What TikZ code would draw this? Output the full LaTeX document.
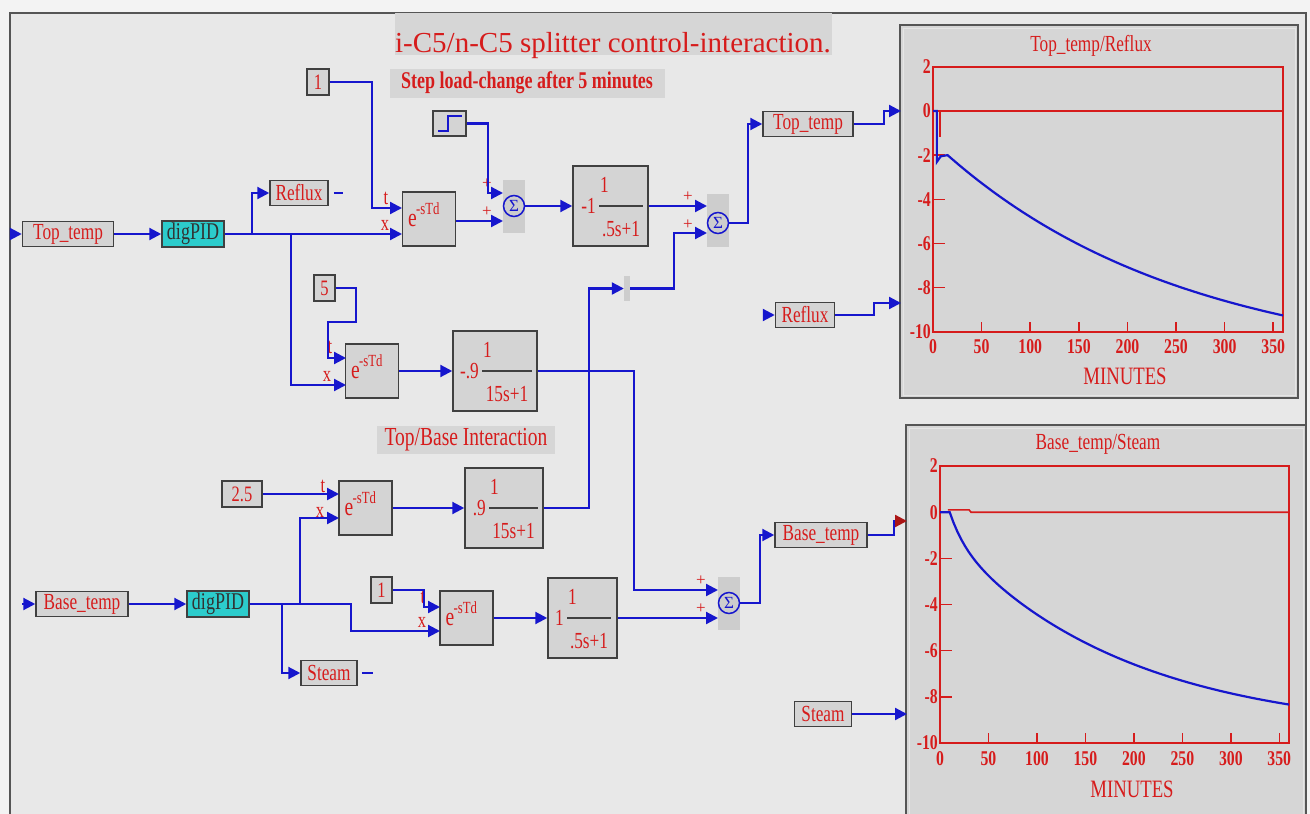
\documentclass[tikz,border=0pt]{standalone}
\usepackage{fontspec}
\setmainfont{Liberation Serif}
\newfontfamily\condfont[FakeStretch=0.75]{Liberation Serif}
\usetikzlibrary{arrows.meta,positioning}
\definecolor{outergray}{RGB}{243,243,243}
\definecolor{bggray}{RGB}{232,232,232}
\definecolor{framegray}{RGB}{85,85,85}
\definecolor{blockgray}{RGB}{212,212,212}
\definecolor{edgegray}{RGB}{64,64,64}
\definecolor{sumgray}{RGB}{205,205,205}
\definecolor{hlgray}{RGB}{214,214,214}
\definecolor{panelgray}{RGB}{214,214,214}
\definecolor{sigred}{RGB}{214,28,28}
\definecolor{wireblue}{RGB}{22,22,205}
\definecolor{pidcyan}{RGB}{44,204,204}
\definecolor{pidtext}{RGB}{50,50,50}

\newcommand{\fsz}[1]{\fontsize{#1}{#1}\selectfont}

\tikzset{
  wire/.style={draw=wireblue, line width=2.2pt},
  arr/.style={wire, -{Triangle[length=12pt,width=12pt]}},
  sig/.style={draw=edgegray, line width=1.5pt, fill=blockgray, text=sigred,
    font=\condfont\fsz{23}, inner sep=0pt, minimum height=25pt},
  pid/.style={sig, fill=pidcyan, text=pidtext, minimum width=62pt,
    minimum height=26pt, font=\condfont\fsz{24}},
  constbox/.style={sig, minimum width=22pt, minimum height=26pt, font=\condfont\fsz{22}},
  delaybox/.style={draw=edgegray, line width=1.5pt, fill=blockgray,
    minimum width=53pt, minimum height=54pt, inner sep=0pt},
  tfbox/.style={draw=edgegray, line width=1.5pt, fill=blockgray,
    minimum height=80pt, inner sep=0pt},
  tftext/.style={text=sigred, font=\condfont\fsz{23}, inner sep=0pt},
  portlbl/.style={text=sigred, font=\condfont\fsz{22}, inner sep=0pt},
  pluslbl/.style={text=sigred, font=\fsz{17}, inner sep=0pt},
  sumbg/.style={fill=sumgray, minimum width=22pt, minimum height=53pt, inner sep=0pt},
  sumc/.style={circle, draw=wireblue, line width=1.5pt, minimum size=21pt,
    inner sep=0pt, text=wireblue, font=\fsz{17}},
  hlbox/.style={fill=hlgray, text=sigred, inner sep=0pt},
  axlbl/.style={text=sigred, font=\condfont\bfseries\fsz{21}, inner sep=0pt},
  plotlbl/.style={text=sigred, font=\condfont\fsz{23}, inner sep=0pt},
  plotred/.style={draw=sigred, line width=1.6pt},
  plotblue/.style={draw=wireblue, line width=2.2pt},
}

% delay block: name, centre x, centre y
\newcommand{\delayblk}[3]{%
  \node[delaybox] (#1) at (#2,#3) {};
  \node[tftext, font=\condfont\fsz{26}, anchor=base west] (#1e) at (#2-21,#3+7) {e};
  \node[tftext, font=\condfont\fsz{17}, anchor=base west] (#1s) at (#2-13,#3-5) {-sTd};
}
% transfer block: name, centre x, centre y, width, gain, bar left, bar right, denominator
\newcommand{\tfblk}[8]{%
  \node[tfbox, minimum width=#4] (#1) at (#2,#3) {};
  \node[tftext, anchor=east] (#1g) at (#6-3,#3) {#5};
  \draw[edgegray, line width=1.5pt] (#6,#3) -- (#7,#3);
  \node[tftext, anchor=west] (#1n) at (#6+1,#3-21) {1};
  \node[tftext] (#1d) at ({(#6+#7)/2},#3+23) {#8};
}

\begin{document}
\begin{tikzpicture}[x=1pt,y=-1pt]
  % canvas and frame
  \useasboundingbox (0,0) rectangle (1310,814);
  \fill[outergray] (0,0) rectangle (1310,814);
  \fill[bggray] (10,13) rectangle (1306,814);
  \draw[framegray, line width=2pt] (10,830) -- (10,13) -- (1306,13) -- (1306,830);

  % headings
  \node[hlbox, minimum width=437pt, minimum height=42pt] (titlebg) at (613.5,34) {};
  \node[text=sigred, font=\fsz{29}, anchor=base, inner sep=0pt] (title) at (613,52)
    {i-C5/n-C5 splitter control-interaction.};
  \node[hlbox, minimum width=275pt, minimum height=29pt, font=\condfont\bfseries\fsz{24}]
    (steplbl) at (527,83) {Step load-change after 5 minutes};
  \node[hlbox, minimum width=178pt, minimum height=28pt, font=\condfont\fsz{26}]
    (interlbl) at (466,440) {Top/Base Interaction};

  % top loop blocks
  \coordinate (toptsrc) at (11,234);
  \node[sig, minimum width=91pt] (toptin) at (68,234) {Top\_temp};
  \node[pid] (pidtop) at (193,234) {digPID};
  \node[sig, minimum width=58pt] (refluxout) at (299,193) {Reflux};
  \node[constbox] (tdone) at (318,82) {1};
  \delayblk{dtop}{429}{219}
  \coordinate (dtopt) at (402,208);
  \coordinate (dtopx) at (402,234);
  \node[portlbl] (dtoptl) at (386,198) {t};
  \node[portlbl] (dtopxl) at (385,225) {x};
  \node[sig, minimum width=33pt, minimum height=25pt] (stepsrc) at (449.5,123.5) {};
  \draw[wireblue, line width=2pt] (438,131) -- (448,131) -- (448,116) -- (462,116);
  \node[sumbg] (sumAbg) at (514,206.5) {};
  \node[sumc] (sumA) at (514,206) {Σ};
  \coordinate (sA1) at (503,193);
  \coordinate (sA2) at (503,221);
  \node[pluslbl] (pA1) at (487,184) {+};
  \node[pluslbl] (pA2) at (487,212) {+};
  \tfblk{tfA}{610.5}{206}{75pt}{-1}{599}{643}{.5s+1}
  \node[sumbg] (sumBbg) at (717.5,220) {};
  \node[sumc] (sumB) at (718,223) {Σ};
  \coordinate (sB1) at (707,206);
  \coordinate (sB2) at (707,233);
  \node[pluslbl] (pB1) at (688,197) {+};
  \node[pluslbl] (pB2) at (688,225) {+};
  \node[sig, minimum width=90pt] (toptout) at (808,124) {Top\_temp};
  \coordinate (refluxsrc) at (763,315);
  \node[sig, minimum width=59pt] (refluxin) at (805,315) {Reflux};

  % top/base interaction blocks
  \node[constbox, minimum width=21pt] (tdfive) at (324.5,288) {5};
  \delayblk{dmid}{372}{371}
  \coordinate (dmidt) at (346,358);
  \coordinate (dmidx) at (346,385);
  \node[portlbl] (dmidtl) at (330,347) {t};
  \node[portlbl] (dmidxl) at (327,376) {x};
  \tfblk{tfB}{495}{371}{84pt}{-.9}{482}{532}{15s+1}
  \node[constbox, minimum width=40pt] (tdtwo) at (242,494) {2.5};
  \delayblk{dlow}{365.5}{508}
  \coordinate (dlowt) at (339,494);
  \coordinate (dlowx) at (339,518);
  \node[portlbl] (dlowtl) at (323,486) {t};
  \node[portlbl] (dlowxl) at (320,512) {x};
  \tfblk{tfC}{504}{508}{78pt}{.9}{489}{538}{15s+1}
  \node[fill=sumgray, minimum width=6pt, minimum height=25pt, inner sep=0pt] (junc) at (627,288.5) {};

  % base loop blocks
  \coordinate (basetsrc) at (22,604);
  \node[sig, minimum width=92pt] (basetin) at (82,604) {Base\_temp};
  \node[pid] (pidbase) at (218,604) {digPID};
  \node[sig, minimum width=56pt] (steamout) at (329,673) {Steam};
  \node[constbox, minimum width=21pt] (tdonelow) at (381.5,590) {1};
  \delayblk{dbot}{466.5}{618}
  \coordinate (dbott) at (440,607);
  \coordinate (dbotx) at (440,631);
  \node[portlbl] (dbottl) at (423,597) {t};
  \node[portlbl] (dbotxl) at (422,622) {x};
  \tfblk{tfD}{582.5}{618}{69pt}{1}{567}{611}{.5s+1}
  \node[sumbg] (sumCbg) at (729,603.5) {};
  \node[sumc] (sumC) at (729,603) {Σ};
  \coordinate (sC1) at (718,590);
  \coordinate (sC2) at (718,618);
  \node[pluslbl] (pC1) at (701,581) {+};
  \node[pluslbl] (pC2) at (701,609) {+};
  \node[sig, minimum width=92pt] (basetout) at (821,535) {Base\_temp};
  \coordinate (steamsrc) at (781,714);
  \node[sig, minimum width=57pt] (steamin) at (823,714) {Steam};

  % top loop wiring
  \draw[arr] (toptsrc) -- (toptin.west);
  \draw[arr] (toptin.east) -- (pidtop.west);
  \draw[arr] (pidtop.east) -- (dtopx);
  \coordinate (jR) at (252,234);
  \coordinate (jM) at (291,234);
  \draw[arr] (jR) |- (refluxout.west);
  \draw[wire] (refluxout.east) ++(5,0) -- ++(9,0);
  \draw[arr] (tdone.east) -- ++(42,0) |- (dtopt);
  \draw[arr] (stepsrc.east) -- ++(21,0) |- (sA1);
  \draw[arr] (dtop.east |- sA2) -- (sA2);
  \draw[arr] (sumA.east) -- (tfA.west);
  \draw[arr] (tfA.east) -- (sB1);
  \draw[arr] (sumB.east) -- ++(19,0) |- (toptout.west);
  \draw[arr] (refluxsrc) -- (refluxin.west);

  % interaction wiring
  \draw[arr] (jM) |- (dmidx);
  \draw[arr] (tdfive.east) -- ++(20,0) -- ++(0,34) -- ++(-28,0) |- (dmidt);
  \draw[arr] (dmid.east) -- (tfB.west);
  \draw[arr] (tfB.east) -- ++(96,0) |- (sC1);
  \draw[arr] (tdtwo.east) -- (dlowt);
  \draw[arr] (dlow.east) -- (tfC.west);
  \draw[arr] (tfC.east) -- ++(45,0) |- (junc.west);
  \draw[arr] (junc.east) -- ++(44,0) |- (sB2);

  % base loop wiring
  \draw[arr] (basetsrc) -- (basetin.west);
  \draw[arr] (basetin.east) -- (pidbase.west);
  \draw[arr] (pidbase.east) -- ++(101,0) |- (dbotx);
  \coordinate (jS) at (282,604);
  \coordinate (jL) at (300,604);
  \draw[arr] (jS) |- (steamout.west);
  \draw[wire] (steamout.east) ++(4,0) -- ++(11,0);
  \draw[arr] (jL) |- (dlowx);
  \draw[arr] (tdonelow.east) -- ++(31,0) |- (dbott);
  \draw[arr] (dbot.east) -- (tfD.west);
  \draw[arr] (tfD.east) -- (sC2);
  \draw[arr] (sumC.east) -- ++(20,0) |- (basetout.west);

  % plot panels
  \draw[framegray, line width=2pt, fill=panelgray] (900,25) rectangle (1298,398);
  \draw[white!80!gray, line width=1pt] (903,28) rectangle (1295,395);
  \draw[framegray, line width=2pt, fill=panelgray] (906,425) rectangle (1306,830);
  \draw[white!80!gray, line width=1pt] (909,428) rectangle (1303,830);
  \coordinate (plotAin1) at (901,111);
  \coordinate (plotAin2) at (901,303);
  \coordinate (plotBin1) at (907,521);
  \coordinate (plotBin2) at (907,714);
  \draw[arr] (toptout.east) -- ++(30,0) |- (plotAin1);
  \draw[arr] (refluxin.east) -- ++(39,0) |- (plotAin2);
  \draw[wire, -{Triangle[length=12pt,width=12pt,color=sigred!80!black]}]
    (basetout.east) -- ++(26,0) |- (plotBin1);
  \draw[arr] (steamin.east) -- (plotBin2);

  % Top_temp/Reflux plot
  \node[plotlbl] (plotAtitle) at (1091,46) {Top\_temp/Reflux};
  \node[plotlbl, font=\condfont\fsz{25}] (plotAx) at (1125,376) {MINUTES};
  \begin{scope}[shift={(933,111)}, x=0.9722pt, y=22.08pt]
    \draw[plotred] (0,-10) rectangle (360,2);
    \foreach \v in {-8,-6,-4,-2}
      \draw[plotred] (0,\v) -- (12,\v);
    \foreach \t in {50,100,...,350}
      \draw[plotred] (\t,-10) -- (\t,-9.55);
    \foreach \v in {2,0,-2,-4,-6,-8,-10}
      \node[axlbl, anchor=east] (yA\v) at (-2,\v) {\v};
    \foreach \t in {0,50,...,350}
      \node[axlbl, anchor=north] (xA\t) at (\t,-10.35) {\t};
    \draw[plotred] (0,0) -- (360,0);
    \draw[plotred] (7,0) -- (7,-1.2);
    \draw[plotblue] (0,0) -- (4,0) -- (4,-2.3) -- (8,-2.05) -- (15,-2)
      -- plot[domain=15:360, samples=90] (\x, {-2-9.7*(1-exp(-(\x-15)/250))});
  \end{scope}

  % Base_temp/Steam plot
  \node[plotlbl] (plotBtitle) at (1098,444) {Base\_temp/Steam};
  \node[plotlbl, font=\condfont\fsz{25}] (plotBx) at (1132,789) {MINUTES};
  \begin{scope}[shift={(940,512.2)}, x=0.9694pt, y=23.08pt]
    \draw[plotred] (0,-10) rectangle (360,2);
    \foreach \v in {-8,-6,-4,-2}
      \draw[plotred] (0,\v) -- (12,\v);
    \foreach \t in {50,100,...,350}
      \draw[plotred] (\t,-10) -- (\t,-9.57);
    \foreach \v in {2,0,-2,-4,-6,-8,-10}
      \node[axlbl, anchor=east] (yB\v) at (-2,\v) {\v};
    \foreach \t in {0,50,...,350}
      \node[axlbl, anchor=north] (xB\t) at (\t,-10.35) {\t};
    \draw[plotred] (8,0.1) -- (30,0.1) -- (32,0) -- (360,0);
    \draw[plotblue] (0,0) -- (10,0)
      -- plot[domain=10:360, samples=90]
        (\x, {-((1.2*(1-exp(-(\x-10)/15))) + 8.4*(1-exp(-(\x-10)/185)))});
  \end{scope}
\end{tikzpicture}
\end{document}
